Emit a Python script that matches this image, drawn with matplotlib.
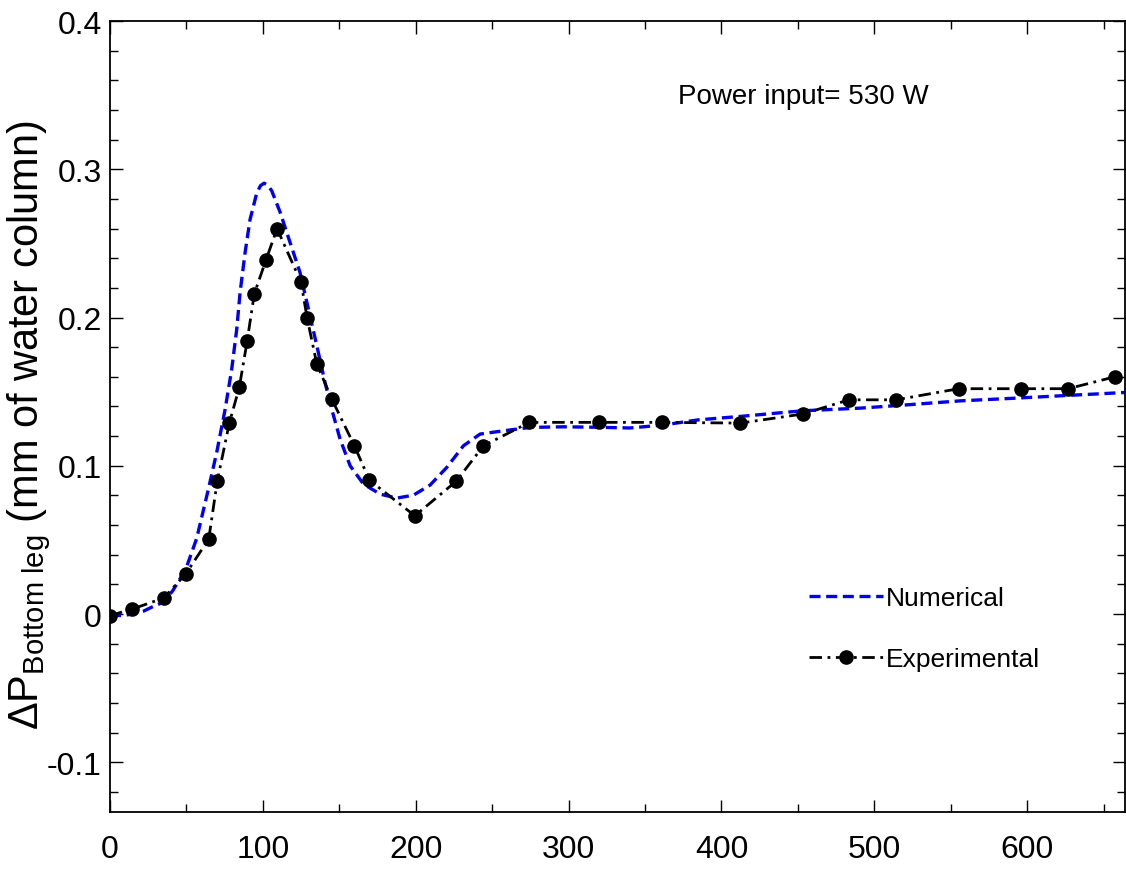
import matplotlib
matplotlib.use("Agg")
import matplotlib.pyplot as plt

plt.rcParams['font.family'] = ['Liberation Sans', 'DejaVu Sans']
plt.rcParams['mathtext.fontset'] = 'custom'
plt.rcParams['mathtext.rm'] = 'Liberation Sans'
plt.rcParams['mathtext.it'] = 'Liberation Sans:italic'

# numerical result
num_x = [0, 8, 15, 22, 28, 35, 41, 49.5, 56.7, 64.3, 69.8, 75.3, 79.6, 82.9,
         85.1, 88.4, 91.6, 96, 98.5, 100.8, 103.2, 105.8, 111.3, 117.8, 124.3,
         129.8, 135.3, 140.7, 145.1, 150.5, 157.1, 165.8, 176.7, 187.6, 198.5,
         209.4, 220.3, 231.2, 242.1, 257.4, 274.9, 296.7, 318.5, 340, 361, 385,
         412.3, 453, 490.8, 520, 556.3, 590, 621.7, 665]
num_y = [-0.001, -0.001, 0.0, 0.002, 0.005, 0.008, 0.0157, 0.030, 0.051,
         0.084, 0.109, 0.138, 0.165, 0.192, 0.217, 0.244, 0.266, 0.284, 0.289,
         0.2906, 0.2893, 0.2855, 0.271, 0.2506, 0.2304, 0.2057, 0.181, 0.156,
         0.138, 0.118, 0.100, 0.0877, 0.0809, 0.0782, 0.0802, 0.087, 0.0989,
         0.1135, 0.1214, 0.1236, 0.1259, 0.1263, 0.126, 0.1255, 0.1274, 0.131,
         0.1333, 0.1371, 0.1389, 0.141, 0.1438, 0.1455, 0.1472, 0.1495]

# experimental points
exp_x = [0, 14.6, 35.1, 49.5, 64.6, 70.2, 78.1, 84.6, 89.7, 94.4, 102.1, 109.3,
         125, 128.9, 135.3, 145.1, 159.9, 169.7, 199.4, 226.4, 244.3, 274.4,
         320.2, 361, 412.3, 453.1, 483.4, 514.2, 555.2, 596.2, 626.8, 657.3]
exp_y = [-0.001, 0.0034, 0.0108, 0.027, 0.0506, 0.0899, 0.129, 0.153, 0.184,
         0.216, 0.239, 0.260, 0.2237, 0.200, 0.1686, 0.145, 0.1135, 0.0903,
         0.0663, 0.0895, 0.1135, 0.1293, 0.1293, 0.1293, 0.1288, 0.1349, 0.1445,
         0.1445, 0.152, 0.152, 0.152, 0.160]

x_ticks = [0, 100, 200, 300, 400, 500, 600]
y_ticks = [-0.1, 0, 0.1, 0.2, 0.3, 0.4]
y_tick_labels = ['-0.1', '0', '0.1', '0.2', '0.3', '0.4']

fig = plt.figure(figsize=(11.26, 8.70), dpi=100)
ax = fig.add_axes([110/1126, 57/870, 1015/1126, 791/870])

ax.plot(num_x, num_y, color='#0000ee', lw=2.4, dashes=(3.3, 1.7),
        label='Numerical')
ax.plot(exp_x, exp_y, color='black', lw=2.0, dashes=(4.5, 2, 1, 2),
        marker='o', ms=9.5, label='Experimental')

ax.set_xlim(0, 664)
ax.set_ylim(-0.1335, 0.4)
ax.set_xticks(x_ticks)
ax.set_xticks(range(50, 700, 100), minor=True)
ax.set_yticks(y_ticks)
ax.set_yticklabels(y_tick_labels)
ax.set_yticks([v / 100 for v in range(-12, 40, 2)], minor=True)

ax.tick_params(which='both', direction='in', top=True, right=True,
               labelsize=23, width=1.0)
ax.tick_params(which='major', length=9)
ax.tick_params(which='minor', length=6)
ax.tick_params(axis='x', pad=16)
ax.tick_params(axis='y', pad=6)
for s in ax.spines.values():
    s.set_linewidth(1.3)

ax.set_ylabel(r'$\Delta$P$_{\mathrm{Bottom\ leg}}$ (mm of water column)',
              fontsize=30)
ax.yaxis.set_label_coords(-0.056, 0.49)

ax.text(0.56, 0.905, 'Power input= 530 W', transform=ax.transAxes,
        fontsize=20, ha='left', va='center')

ax.legend(loc='upper left', bbox_to_anchor=(0.689, 0.286), frameon=False,
          fontsize=19, handlelength=2.8, handletextpad=0.1, labelspacing=1.42,
          borderpad=0, borderaxespad=0)

fig.savefig('out.png', dpi=100)
